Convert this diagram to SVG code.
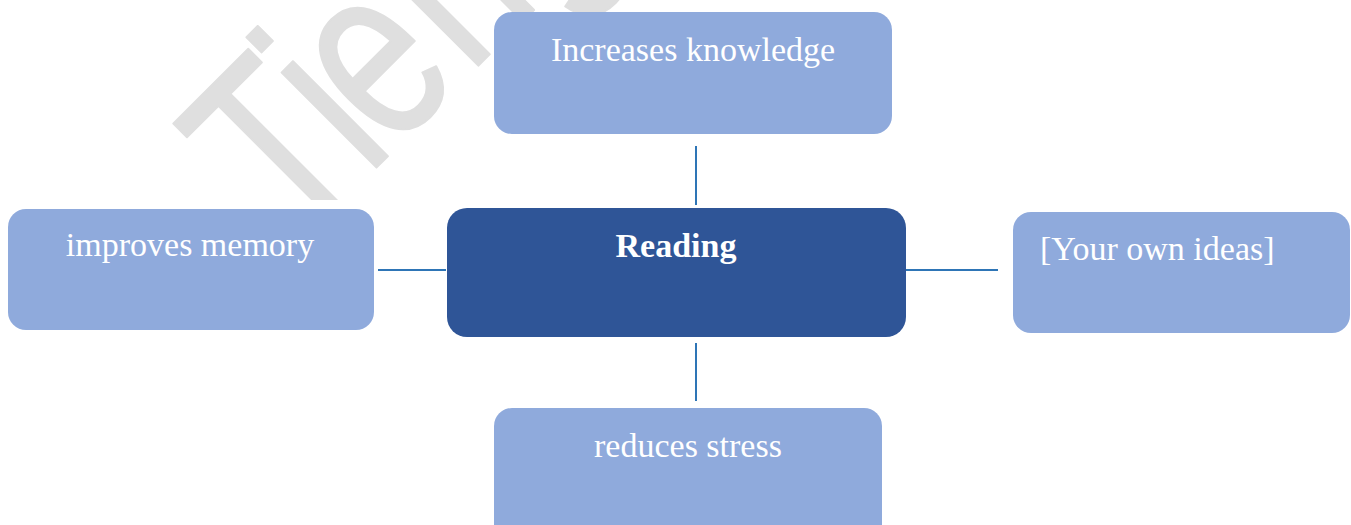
<svg xmlns="http://www.w3.org/2000/svg" width="1351" height="525" viewBox="0 0 1351 525">
<style>
.box{fill:#8faadc;}
.main{fill:#2f5597;}
.lbl{font-family:"Liberation Serif","Times New Roman",serif;font-size:34px;fill:#ffffff;}
.conn{stroke:#2e75b6;stroke-width:2;fill:none;}
.wm{font-family:"Liberation Sans",Arial,sans-serif;font-size:254px;fill:#dfdfdf;stroke:#dfdfdf;stroke-width:2;stroke-linejoin:round;}
</style>
<defs>
<clipPath id="wmclip"><rect x="0" y="0" width="1351" height="200"/></clipPath>
</defs>
<g id="watermark" clip-path="url(#wmclip)">
<g transform="translate(334,210) rotate(-45) scale(0.74,1)">
<text class="wm" x="-77">T</text>
<text class="wm" x="64">i</text>
<text class="wm" x="109">e</text>
<text class="wm" x="258">n</text>
<text class="wm" x="399">g</text>
</g>
</g>
<g id="connectors">
<line class="conn" x1="696" y1="146" x2="696" y2="205"/>
<line class="conn" x1="696" y1="343" x2="696" y2="401"/>
<line class="conn" x1="378" y1="270" x2="446" y2="270"/>
<line class="conn" x1="906" y1="270" x2="998" y2="270"/>
</g>
<g id="node-top">
<rect class="box" x="494" y="12" width="398" height="122" rx="18"/>
<text class="lbl" x="693" y="61" text-anchor="middle">Increases knowledge</text>
</g>
<g id="node-center">
<rect class="main" x="447" y="208" width="459" height="129" rx="20"/>
<text class="lbl" x="676" y="257" text-anchor="middle" font-weight="bold">Reading</text>
</g>
<g id="node-left">
<rect class="box" x="8" y="209" width="366" height="121" rx="18"/>
<text class="lbl" x="190" y="256" text-anchor="middle">improves memory</text>
</g>
<g id="node-right">
<rect class="box" x="1013" y="212" width="337" height="121" rx="18"/>
<text class="lbl" x="1040" y="260">[Your own ideas]</text>
</g>
<g id="node-bottom">
<rect class="box" x="494" y="408" width="388" height="140" rx="18"/>
<text class="lbl" x="688" y="457" text-anchor="middle">reduces stress</text>
</g>
</svg>
